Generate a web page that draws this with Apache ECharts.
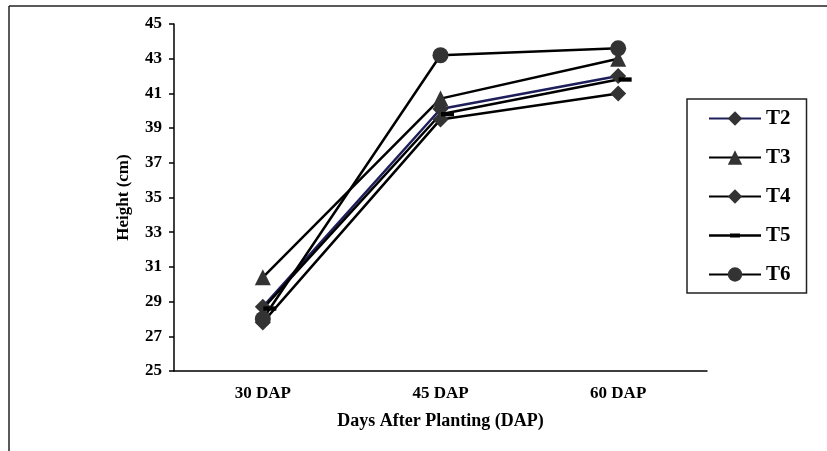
<!DOCTYPE html>
<html lang="en">
<head>
    <meta charset="UTF-8">
    <title>Height</title>
    <script src="https://cdn.jsdelivr.net/npm/echarts@6/dist/echarts.min.js"></script>
    <style>
        html, body { margin: 0; padding: 0; background: #fff; }
        .box { width: 827px; height: 451px; }
    </style>
</head>
<body>
    <div class="box"></div>
    <script>
        // data
        var categories = ['30 DAP', '45 DAP', '60 DAP'];
        var t2 = [28.7, 40.1, 42.0];
        var t3 = [30.4, 40.7, 43.0];
        var t4 = [27.8, 39.5, 41.0];
        var t5 = [28.6, 39.8, 41.8];
        var t6 = [28.0, 43.2, 43.6];

        var font = '"Liberation Serif", "Times New Roman", serif';
        var myChart = echarts.init(document.querySelector('.box'));

        function line(name, data, symbol, size, lineColor) {
            return {
                name: name,
                type: 'line',
                data: data,
                symbol: symbol,
                symbolSize: size,
                showAllSymbol: true,
                lineStyle: { color: lineColor || '#000', width: 2.5 },
                itemStyle: { color: '#333' },
                emphasis: { disabled: true },
                z: 3
            };
        }

        // T5 uses a flat dash marker
        var dash = line('T5', t5, 'path://M0,0L12,0L12,4L0,4Z', 13);
        dash.symbolKeepAspect = true;
        dash.symbolOffset = [7, 0];
        dash.itemStyle = { color: '#000' };

        // legend icon for T5: thin line with a small dash in the middle (52 x 18 box)
        var dashIcon = 'path://M0,0h0.01v0.01h-0.01Z M51.99,17.99h0.01v0.01h-0.01Z ' +
            'M0,7.8L52,7.8L52,10.2L0,10.2Z M21,7L31,7L31,11L21,11Z';

        var option = {
            animation: false,
            textStyle: { fontFamily: font },
            graphic: [
                { type: 'line', shape: { x1: 9, y1: 6, x2: 827, y2: 6 }, style: { stroke: '#222', lineWidth: 1.5 } },
                { type: 'line', shape: { x1: 9, y1: 6, x2: 9, y2: 451 }, style: { stroke: '#222', lineWidth: 1.5 } }
            ],
            grid: { left: 174, top: 24, right: 120, bottom: 80 },
            legend: {
                orient: 'vertical',
                left: 687,
                top: 99,
                padding: [9, 16, 8, 21],
                borderColor: '#222',
                borderWidth: 1.5,
                itemWidth: 52,
                itemHeight: 18,
                itemGap: 18,
                textStyle: { fontFamily: font, fontWeight: 'bold', fontSize: 21, color: '#000', lineHeight: 20 },
                data: ['T2', 'T3', 'T4', { name: 'T5', icon: dashIcon }, 'T6']
            },
            xAxis: {
                type: 'category',
                data: categories,
                name: 'Days After Planting (DAP)',
                nameLocation: 'middle',
                nameGap: 41,
                nameTextStyle: { fontFamily: font, fontWeight: 'bold', fontSize: 18, color: '#000' },
                axisLine: { lineStyle: { color: '#000', width: 1.5 } },
                axisTick: { length: 5, lineStyle: { color: '#000', width: 1.5 } },
                axisLabel: { margin: 14, fontFamily: font, fontWeight: 'bold', fontSize: 17, color: '#000' }
            },
            yAxis: {
                type: 'value',
                min: 25,
                max: 45,
                interval: 2,
                name: 'Height (cm)',
                nameLocation: 'middle',
                nameGap: 42,
                nameTextStyle: { fontFamily: font, fontWeight: 'bold', fontSize: 17, color: '#000' },
                axisLine: { show: true, lineStyle: { color: '#000', width: 1.5 } },
                axisTick: { show: true, length: 5, lineStyle: { color: '#000', width: 1.5 } },
                axisLabel: { margin: 12, fontFamily: font, fontWeight: 'bold', fontSize: 17, color: '#000' },
                splitLine: { show: false }
            },
            series: [
                line('T2', t2, 'diamond', 16, '#1e1e5a'),
                line('T3', t3, 'triangle', 16),
                line('T4', t4, 'diamond', 16),
                dash,
                line('T6', t6, 'circle', 16)
            ]
        };
        myChart.setOption(option);
    </script>
</body>
</html>
